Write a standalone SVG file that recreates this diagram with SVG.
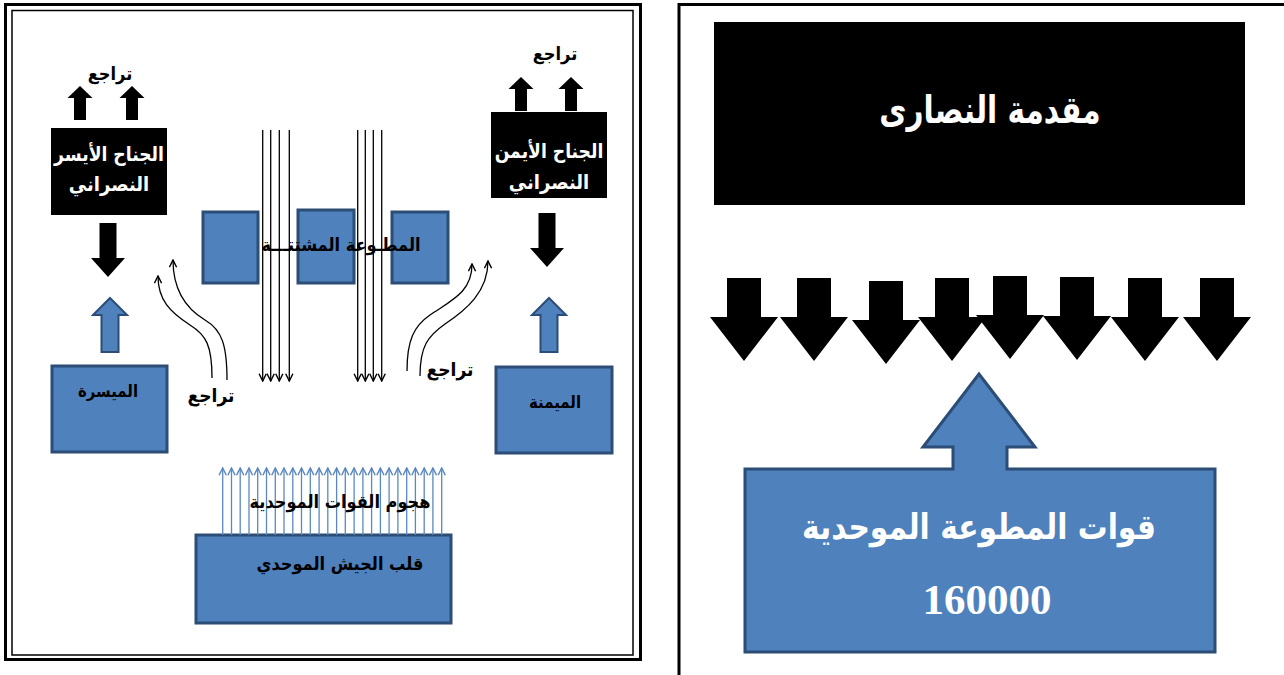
<svg xmlns="http://www.w3.org/2000/svg" width="1284" height="675" viewBox="0 0 1284 675">
<style>
.ar{font-family:"DejaVu Sans","Noto Sans",sans-serif;font-weight:bold;text-anchor:middle}
.w{fill:#ffffff}
.k{fill:#000000}
.bb{fill:#4F81BD;stroke:#2C4D75;stroke-width:3}
.blk{fill:#000000}
.thin{stroke:#000;stroke-width:1.3;fill:none}
.hatch{stroke:#5B87C0;stroke-width:1.3;fill:none}
</style>
<defs>
<marker id="vk" viewBox="0 0 10 10" refX="9" refY="5" markerWidth="9" markerHeight="9" markerUnits="userSpaceOnUse" orient="auto">
<path d="M1,1 L9,5 L1,9" fill="none" stroke="#000" stroke-width="1.6"/>
</marker>
<marker id="vb" viewBox="0 0 10 10" refX="9" refY="5" markerWidth="9" markerHeight="9" markerUnits="userSpaceOnUse" orient="auto">
<path d="M1,1 L9,5 L1,9" fill="none" stroke="#5B87C0" stroke-width="1.6"/>
</marker>
<path id="bigDown" d="M-17,0 H17 V39 H34 L0,83 L-34,39 H-17 Z"/>
<path id="smUp" d="M0,0 L12.5,12 H6 V34 H-6 V12 H-12.5 Z"/>
<path id="mdDown" d="M-8.5,0 H8.5 V35 H17 L0,54 L-17,35 H-8.5 Z"/>
<path id="blUp" d="M0,0 L17,17 H8.5 V54 H-8.5 V17 H-17 Z"/>
</defs>
<rect width="1284" height="675" fill="#ffffff"/>

<g id="left-frame">
<rect x="5.5" y="4.5" width="635" height="655" fill="none" stroke="#000" stroke-width="3"/>
<rect x="12" y="10.5" width="621" height="644.5" fill="none" stroke="#000" stroke-width="1.5"/>
</g>
<g id="right-frame">
<path d="M1284,4.5 H679 V675" fill="none" stroke="#000" stroke-width="3"/>
</g>

<g id="left-wing-christian">
<rect x="51" y="128" width="116" height="87" class="blk"/>
<text transform="translate(109,161) scale(0.86,1)" class="ar w" font-size="20">الجناح الأيسر</text>
<text transform="translate(109,191) scale(0.9,1)" class="ar w" font-size="20">النصراني</text>
</g>
<g id="right-wing-christian">
<rect x="491" y="112" width="116" height="86" class="blk"/>
<text transform="translate(549,158) scale(0.86,1)" class="ar w" font-size="20">الجناح الأيمن</text>
<text transform="translate(549,189) scale(0.9,1)" class="ar w" font-size="20">النصراني</text>
</g>

<g id="left-retreat-top">
<text transform="translate(110,80) scale(0.9,1)" class="ar k" font-size="18">تراجع</text>
</g>
<g id="right-retreat-top">
<text transform="translate(555,60) scale(0.9,1)" class="ar k" font-size="18">تراجع</text>
</g>

<g id="maysara">
<rect x="52" y="366" width="115" height="86" class="bb"/>
<text transform="translate(108,397) scale(0.88,1)" class="ar k" font-size="17">الميسرة</text>
</g>
<g id="maymana">
<rect x="496" y="367" width="116" height="86" class="bb"/>
<text transform="translate(555,408) scale(0.88,1)" class="ar k" font-size="17">الميمنة</text>
</g>

<g id="scattered-volunteers">
<rect x="203" y="212" width="55" height="71" class="bb"/>
<rect x="298" y="210" width="56" height="73" class="bb"/>
<rect x="392" y="212" width="56" height="71" class="bb"/>
</g>

<g id="almohad-center">
<rect x="196" y="535" width="255" height="88" class="bb"/>
<text transform="translate(340,570) scale(0.9,1)" class="ar k" font-size="18">قلب الجيش الموحدي</text>
</g>

<g id="volunteers-forces">
<path d="M745,469 H953 V447 H923 L979,374 L1035,447 H1007 V469 H1215 V652 H745 Z" fill="#4F81BD" stroke="#2C4D75" stroke-width="3"/>
<text transform="translate(979,539) scale(0.85,1)" class="ar w" font-size="35">قوات المطوعة الموحدية</text>
<text x="987" y="614" font-family="Liberation Serif, serif" font-weight="bold" font-size="43" fill="#fff" text-anchor="middle">160000</text>
</g>

<g id="christian-vanguard">
<rect x="714" y="22" width="531" height="183" class="blk"/>
<text transform="translate(990,123) scale(0.78,1)" class="ar w" font-size="38">مقدمة النصارى</text>
</g>

<g id="connectors">
<g class="blk">
<use href="#smUp" x="80" y="86"/>
<use href="#smUp" x="132" y="86"/>
<use href="#smUp" x="521" y="77"/>
<use href="#smUp" x="571" y="77"/>
<use href="#mdDown" x="108" y="223"/>
<use href="#mdDown" x="547" y="213"/>
<use href="#bigDown" x="744" y="278"/>
<use href="#bigDown" x="814" y="278"/>
<use href="#bigDown" x="886" y="281"/>
<use href="#bigDown" x="952" y="278"/>
<use href="#bigDown" x="1010" y="276"/>
<use href="#bigDown" x="1077" y="277"/>
<use href="#bigDown" x="1145" y="278"/>
<use href="#bigDown" x="1217" y="278"/>
</g>
<g fill="#4F81BD" stroke="#2C4D75" stroke-width="2">
<use href="#blUp" x="110" y="298"/>
<use href="#blUp" x="549" y="298"/>
</g>
<g class="thin" marker-end="url(#vk)">
<line x1="262.7" y1="130" x2="262.7" y2="381"/>
<line x1="270.7" y1="130" x2="270.7" y2="381"/>
<line x1="279.3" y1="130" x2="279.3" y2="381"/>
<line x1="289.3" y1="130" x2="289.3" y2="381"/>
<line x1="357.7" y1="130" x2="357.7" y2="381"/>
<line x1="365.3" y1="130" x2="365.3" y2="381"/>
<line x1="373.3" y1="130" x2="373.3" y2="381"/>
<line x1="381.7" y1="130" x2="381.7" y2="381"/>
</g>
<g class="thin" stroke-width="1.6" marker-end="url(#vk)">
<path d="M212,378 C212,345 206,335 190,325 C170,312 158,300 158,276"/>
<path d="M227,380 C227,345 222,330 205,320 C185,308 173,290 173,260"/>
<path d="M407,371 C407,340 414,326 430,315 C452,300 472,292 472,264"/>
<path d="M420,376 C420,346 428,336 445,324 C466,310 488,292 488,261"/>
</g>
<g class="hatch" marker-end="url(#vb)">
<line x1="222.7" y1="535" x2="222.7" y2="468"/>
<line x1="231.5" y1="535" x2="231.5" y2="468"/>
<line x1="240.2" y1="535" x2="240.2" y2="468"/>
<line x1="249.0" y1="535" x2="249.0" y2="468"/>
<line x1="257.7" y1="535" x2="257.7" y2="468"/>
<line x1="266.5" y1="535" x2="266.5" y2="468"/>
<line x1="275.3" y1="535" x2="275.3" y2="468"/>
<line x1="284.0" y1="535" x2="284.0" y2="468"/>
<line x1="292.8" y1="535" x2="292.8" y2="468"/>
<line x1="301.5" y1="535" x2="301.5" y2="468"/>
<line x1="310.3" y1="535" x2="310.3" y2="468"/>
<line x1="319.1" y1="535" x2="319.1" y2="468"/>
<line x1="327.8" y1="535" x2="327.8" y2="468"/>
<line x1="336.6" y1="535" x2="336.6" y2="468"/>
<line x1="345.3" y1="535" x2="345.3" y2="468"/>
<line x1="354.1" y1="535" x2="354.1" y2="468"/>
<line x1="362.9" y1="535" x2="362.9" y2="468"/>
<line x1="371.6" y1="535" x2="371.6" y2="468"/>
<line x1="380.4" y1="535" x2="380.4" y2="468"/>
<line x1="389.1" y1="535" x2="389.1" y2="468"/>
<line x1="397.9" y1="535" x2="397.9" y2="468"/>
<line x1="406.7" y1="535" x2="406.7" y2="468"/>
<line x1="415.4" y1="535" x2="415.4" y2="468"/>
<line x1="424.2" y1="535" x2="424.2" y2="468"/>
<line x1="432.9" y1="535" x2="432.9" y2="468"/>
<line x1="441.7" y1="535" x2="441.7" y2="468"/>
</g>
</g>

<g id="labels">
<text transform="translate(341,251) scale(0.9,1)" class="ar k" font-size="18">المطـوعة المشتتـــة</text>
<text transform="translate(211,402) scale(0.9,1)" class="ar k" font-size="19">تراجع</text>
<text transform="translate(450,376) scale(0.9,1)" class="ar k" font-size="19">تراجع</text>
<text transform="translate(340,508) scale(0.9,1)" class="ar k" font-size="18">هجوم القوات الموحدية</text>
</g>
</svg>
